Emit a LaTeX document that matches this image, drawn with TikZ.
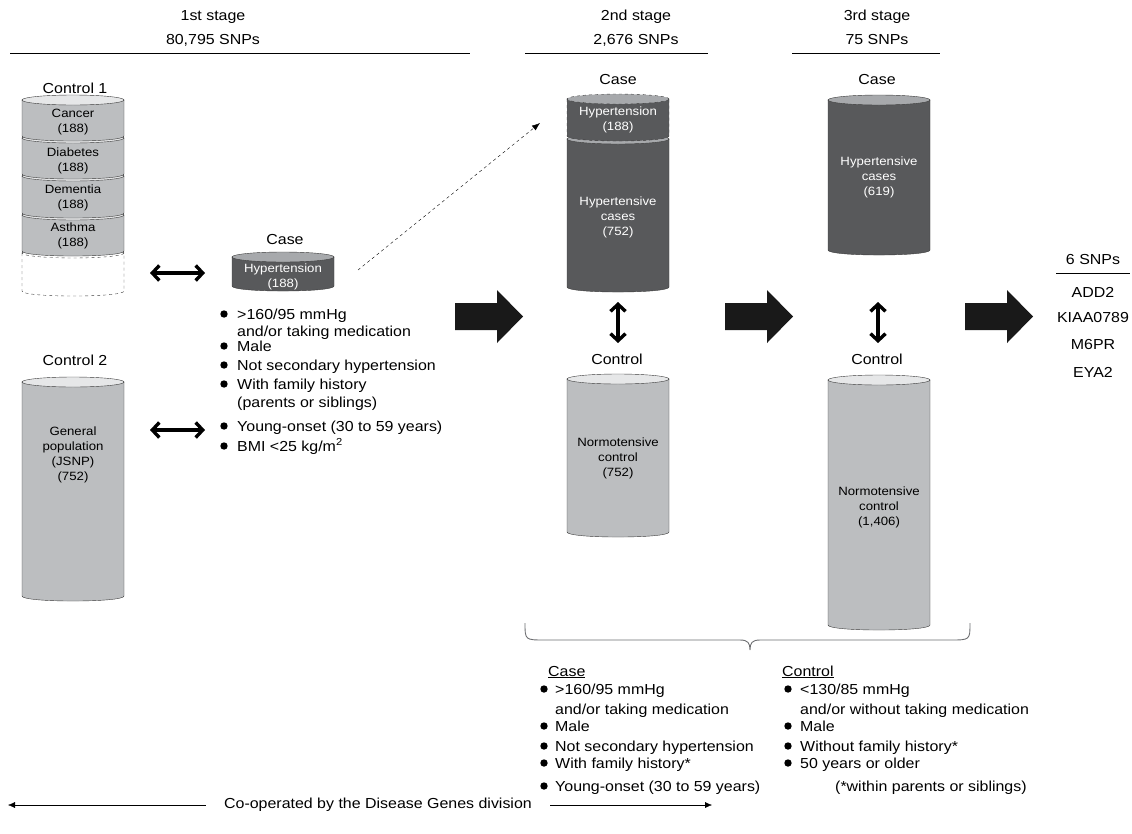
\documentclass[tikz,border=0pt]{standalone}
\usepackage{fontspec}
\setmainfont{Liberation Sans}[FakeStretch=1.1]
\usetikzlibrary{arrows.meta}
\definecolor{darkcyl}{HTML}{58595B}
\definecolor{darktop}{HTML}{A7A9AC}
\definecolor{lightcyl}{HTML}{BCBEC0}
\definecolor{lighttop}{HTML}{E6E7E8}
\definecolor{cylline}{HTML}{3C3C3C}
\definecolor{bracegray}{HTML}{6D6E71}
% drum: [style] left, right, top, bottom, body colour, top colour
\newcommand{\drum}[7][]{%
  \filldraw[draw=cylline, fill=#6, #1] (#2,#4) -- (#2,#5)
    .. controls (#2,#5+6.7) and (#3,#5+6.7) .. (#3,#5) -- (#3,#4);
  \filldraw[draw=cylline, fill=#7, #1] ({(#2+#3)/2},#4) ellipse [x radius={(#3-#2)/2}, y radius=5];
}
\newcommand{\bul}[2]{\fill (#1,#2-1) circle [radius=3.7pt];}

\begin{document}
\begin{tikzpicture}[x=1pt, y=-1pt,
    every node/.style={font=\fontsize{14.5}{17}\selectfont},
    cyltext/.style={font=\fontsize{12}{15}\selectfont, align=center},
    crit/.style={anchor=west, inner sep=0pt, text height=8pt, text depth=0pt},
    dbl/.style={line width=3.4pt, {Straight Barb[length=7pt,width=15pt]}-{Straight Barb[length=7pt,width=15pt]}},
    bigarrow/.style={fill=black!90}]
    \useasboundingbox (0,0) rectangle (1132,833);

    % stage headings
    \node (stageone) at (213,17) {1st stage};
    \node (snpone) at (213,40) {80,795 SNPs};
    \draw (10,53) -- (470,53);
    \node (stagetwo) at (636,17) {2nd stage};
    \node (snptwo) at (636,40) {2,676 SNPs};
    \draw (525,53) -- (708,53);
    \node (stagethree) at (877,17) {3rd stage};
    \node (snpthree) at (877,40) {75 SNPs};
    \draw (792,53) -- (940,53);

    % control 1 stack
    \node (ctrlonelbl) at (75,88) {Control 1};
    \drum[dashed]{22}{124}{253}{291}{white}{white}
    \foreach \t/\b in {215/251,176/213,138/174,100/136}
        \drum{22}{124}{\t}{\b}{lightcyl}{lighttop}
    \node[cyltext] (cancer) at (73,122) {Cancer\\(188)};
    \node[cyltext] (diabetes) at (73,161) {Diabetes\\(188)};
    \node[cyltext] (dementia) at (73,198) {Dementia\\(188)};
    \node[cyltext] (asthma) at (73,236) {Asthma\\(188)};

    % control 2
    \node (ctrltwolbl) at (75,360) {Control 2};
    \drum{22}{124}{382}{596}{lightcyl}{lighttop}
    \node[cyltext] (jsnp) at (73,455) {General\\population\\(JSNP)\\(752)};

    % 1st stage case
    \node (caseonelbl) at (285,240) {Case};
    \drum{232}{334}{257}{286}{darkcyl}{darktop}
    \node[cyltext, text=white] (hypone) at (283,277) {Hypertension\\(188)};

    \coordinate (dblonea) at (150,273);
    \coordinate (dbloneb) at (205,273);
    \coordinate (dbltwoa) at (150,430);
    \coordinate (dbltwob) at (205,430);
    \draw[dbl] (dblonea) -- (dbloneb);
    \draw[dbl] (dbltwoa) -- (dbltwob);

    % 1st stage criteria
    \bul{224}{315} \node[crit] (ca1) at (237,315) {>160/95 mmHg};
    \node[crit] (ca2) at (237,332) {and/or taking medication};
    \bul{224}{347} \node[crit] (ca3) at (237,347) {Male};
    \bul{224}{366} \node[crit] (ca4) at (237,366) {Not secondary hypertension};
    \bul{224}{385} \node[crit] (ca5) at (237,385) {With family history};
    \node[crit] (ca6) at (237,403) {(parents or siblings)};
    \bul{224}{427} \node[crit] (ca7) at (237,427) {Young-onset (30 to 59 years)};
    \bul{224}{447} \node[crit] (ca8) at (237,447) {BMI <25 kg/m\textsuperscript{2}};

    % dashed link to 2nd stage
    \coordinate (dashfrom) at (358,270);
    \coordinate (dashto) at (540,123);
    \draw[dashed, thin, -{Latex[length=8pt,width=6pt]}] (dashfrom) -- (dashto);

    % block arrows
    \foreach \x in {455,725,965}
        \fill[bigarrow] (\x,303) -- (\x+42,303) -- (\x+42,290) -- (\x+68,316.5)
            -- (\x+42,343) -- (\x+42,330) -- (\x,330) -- cycle;

    % 2nd stage
    \node (casetwolbl) at (618,80) {Case};
    \drum{567}{669}{139}{287}{darkcyl}{darktop}
    \drum[dashed]{567}{669}{99}{136}{darkcyl}{darktop}
    \node[cyltext, text=white] (hyptwo) at (618,120) {Hypertension\\(188)};
    \node[cyltext, text=white] (casestwo) at (618,217) {Hypertensive\\cases\\(752)};
    \coordinate (vtwoa) at (618,302);
    \coordinate (vtwob) at (618,343);
    \draw[dbl] (vtwoa) -- (vtwob);
    \node (ctrltwo) at (617,359) {Control};
    \drum{567}{669}{379}{532}{lightcyl}{lighttop}
    \node[cyltext] (normtwo) at (618,458) {Normotensive\\control\\(752)};

    % 3rd stage
    \node (casethreelbl) at (877,80) {Case};
    \drum{828}{930}{100}{250}{darkcyl}{darktop}
    \node[cyltext, text=white] (casesthree) at (879,177) {Hypertensive\\cases\\(619)};
    \coordinate (vthreea) at (878,302);
    \coordinate (vthreeb) at (878,343);
    \draw[dbl] (vthreea) -- (vthreeb);
    \node (ctrlthree) at (877,359) {Control};
    \drum{828}{930}{380}{625}{lightcyl}{lighttop}
    \node[cyltext] (normthree) at (879,507) {Normotensive\\control\\(1,406)};

    % result
    \node (sixsnp) at (1093,260) {6 SNPs};
    \draw (1056,273) -- (1130,273);
    \node (add) at (1093,292) {ADD2};
    \node (kiaa) at (1093,318) {KIAA0789};
    \node (mpr) at (1093,345) {M6PR};
    \node (eya) at (1093,372) {EYA2};

    % brace over 2nd and 3rd stage
    \draw[bracegray, line width=0.9pt] (525,623) .. controls (525,640) and (525,640) .. (545,640)
        -- (740,640) .. controls (748,640) and (750,643) .. (750,650)
        .. controls (750,643) and (752,640) .. (760,640) -- (950,640)
        .. controls (970,640) and (970,640) .. (970,623);

    % 2nd/3rd stage criteria
    \node[crit] (casehd) at (548,672) {\underline{Case}};
    \bul{544}{690} \node[crit] (cb1) at (555,690) {>160/95 mmHg};
    \node[crit] (cb2) at (555,710) {and/or taking medication};
    \bul{544}{727} \node[crit] (cb3) at (555,727) {Male};
    \bul{544}{747} \node[crit] (cb4) at (555,747) {Not secondary hypertension};
    \bul{544}{764} \node[crit] (cb5) at (555,764) {With family history*};
    \bul{544}{787} \node[crit] (cb6) at (555,787) {Young-onset (30 to 59 years)};

    \node[crit] (ctrlhd) at (782,672) {\underline{Control}};
    \bul{788}{690} \node[crit] (cc1) at (800,690) {<130/85 mmHg};
    \node[crit] (cc2) at (800,710) {and/or without taking medication};
    \bul{788}{727} \node[crit] (cc3) at (800,727) {Male};
    \bul{788}{747} \node[crit] (cc4) at (800,747) {Without family history*};
    \bul{788}{764} \node[crit] (cc5) at (800,764) {50 years or older};
    \node[crit] (cc6) at (835,787) {(*within parents or siblings)};

    % bottom
    \node[inner xsep=18pt] (coop) at (378,805) {Co-operated by the Disease Genes division};
    \coordinate (coopl) at (8,805);
    \coordinate (coopr) at (712,805);
    \draw[-{Latex[length=7pt,width=6pt]}] (coop.west) -- (coopl);
    \draw[-{Latex[length=7pt,width=6pt]}] (coop.east) -- (coopr);
\end{tikzpicture}
\end{document}
